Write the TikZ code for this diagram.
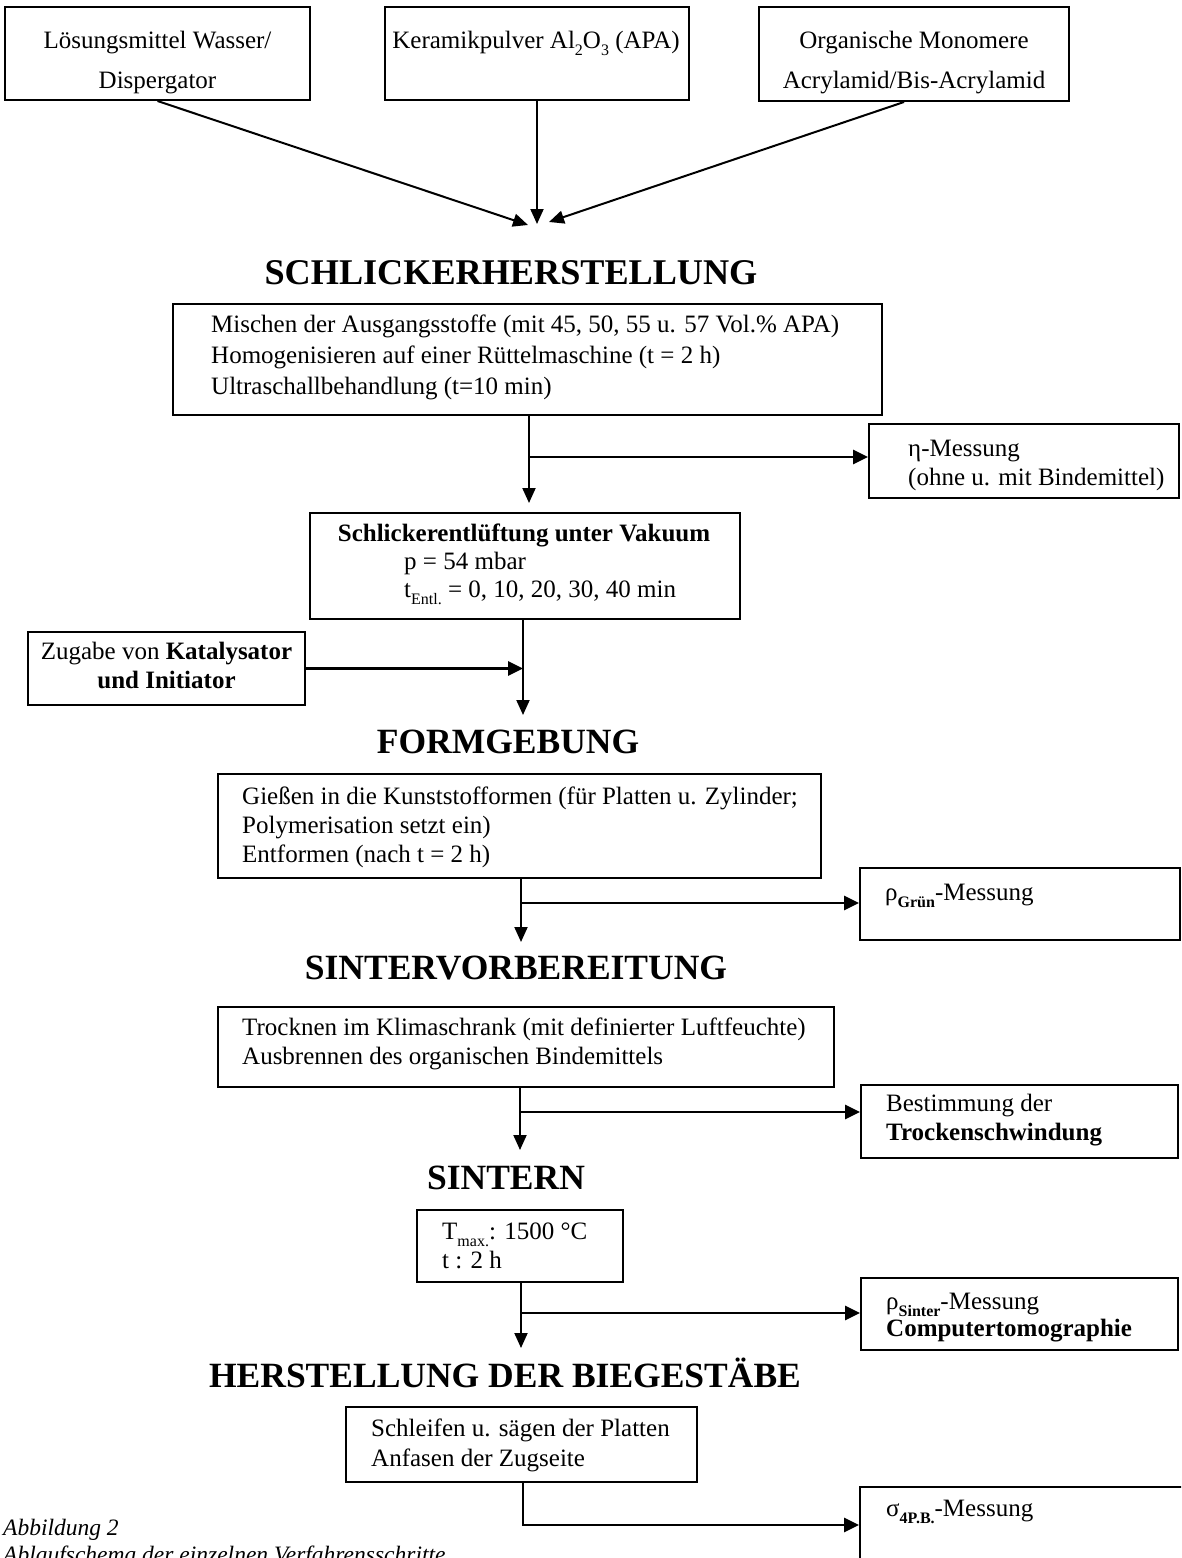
\documentclass[tikz,border=0pt]{standalone}
\usepackage{fontspec}
\setmainfont{Liberation Serif}
\usetikzlibrary{arrows.meta}
\newcommand{\lowsub}[1]{\raisebox{-0.28em}{\fontsize{16}{16}\selectfont #1}}
\newcommand{\lowsubb}[1]{\raisebox{-0.28em}{\fontsize{16}{16}\selectfont\bfseries #1}}
\begin{document}
\begin{tikzpicture}[x=1pt,y=-1pt,
  box/.style={draw, line width=2pt, inner sep=0pt},
  body/.style={font=\fontsize{25}{30}\selectfont, inner sep=0pt},
  bodyb/.style={font=\fontsize{25}{30}\selectfont\bfseries, inner sep=0pt},
  head/.style={font=\fontsize{35.5}{40}\selectfont\bfseries, inner sep=0pt, anchor=base},
  capt/.style={font=\fontsize{23.5}{28}\selectfont\itshape, inner sep=0pt, anchor=base west},
  conn/.style={line width=2pt, -{Triangle[length=15pt,width=13pt]}},
  branch/.style={line width=2.8pt, -{Triangle[length=15pt,width=14pt]}},
]
\useasboundingbox (0,0) rectangle (1181,1558);
\fill[white] (0,0) rectangle (1181,1558);
\clip (0,0) rectangle (1181,1558);

% ---------- top boxes ----------
\node[box, minimum width=305pt, minimum height=93pt] (b1) at (157.5,53.5) {};
\node[body, anchor=base] (b1a) at (157.5,48) {Lösungsmittel Wasser/};
\node[body, anchor=base] (b1b) at (157.5,88) {Dispergator};
\node[box, minimum width=304pt, minimum height=93pt] (b2) at (537,53.5) {};
\node[body, anchor=base] (b2a) at (536,48) {Keramikpulver Al\lowsub{2}O\lowsub{3} (APA)};
\node[box, minimum width=310pt, minimum height=94pt] (b3) at (914,54) {};
\node[body, anchor=base] (b3a) at (914,48) {Organische Monomere};
\node[body, anchor=base] (b3b) at (914,88) {Acrylamid/Bis-Acrylamid};

\coordinate (j1) at (528,225);
\coordinate (j2) at (537,224);
\coordinate (j3) at (549,222);
\draw[conn] (b1.south) -- (j1);
\draw[conn] (b2.south) -- (j2);
\draw[conn] ([xshift=-10pt]b3.south) -- (j3);

% ---------- SCHLICKERHERSTELLUNG ----------
\node[head, font=\fontsize{36.2}{40}\selectfont\bfseries] (h1) at (511,284) {SCHLICKERHERSTELLUNG};

\node[box, minimum width=709pt, minimum height=111pt] (m) at (527.5,359.5) {};
\node[body, anchor=base west] (m1) at (211,332) {Mischen der Ausgangsstoffe (mit 45, 50, 55 u. 57 Vol.\% APA)};
\node[body, anchor=base west] (m2) at (211,363) {Homogenisieren auf einer Rüttelmaschine (t = 2 h)};
\node[body, anchor=base west] (m3) at (211,394) {Ultraschallbehandlung (t=10 min)};

\node[box, minimum width=310pt, minimum height=74pt] (e) at (1024,461) {};
\node[body, anchor=base west] (e1) at (908,456) {η-Messung};
\node[body, anchor=base west] (e2) at (908,485) {(ohne u. mit Bindemittel)};

\coordinate (k1) at (529,503);
\coordinate (k2) at (529,457);
\draw[conn] (m.south -| k1) -- (k1);
\draw[branch] (k2) -- (k2 -| e.west);

\node[box, minimum width=430pt, minimum height=106pt] (v) at (525,566) {};
\node[bodyb, anchor=base] (v1) at (524,541) {Schlickerentlüftung unter Vakuum};
\node[body, anchor=base west] (v2) at (404,569) {p = 54 mbar};
\node[body, anchor=base west] (v3) at (404,597) {t\lowsub{Entl.} = 0, 10, 20, 30, 40 min};

\node[box, minimum width=277pt, minimum height=73pt] (z) at (166.5,668.5) {};
\node[body, anchor=base] (z1) at (166.5,659) {Zugabe von \textbf{Katalysator}};
\node[bodyb, anchor=base] (z2) at (166.5,688) {und Initiator};

\coordinate (k3) at (523,715);
\draw[conn] (v.south -| k3) -- (k3);
\draw[branch] (z.east) -- (z.east -| k3);

% ---------- FORMGEBUNG ----------
\node[head] (h2) at (508,753) {FORMGEBUNG};

\node[box, minimum width=603pt, minimum height=104pt] (g) at (519.5,826) {};
\node[body, anchor=base west] (g1) at (242,804) {Gießen in die Kunststofformen (für Platten u. Zylinder;};
\node[body, anchor=base west] (g2) at (242,833) {Polymerisation setzt ein)};
\node[body, anchor=base west] (g3) at (242,862) {Entformen (nach t = 2 h)};

\node[box, minimum width=320pt, minimum height=72pt] (r1) at (1020,904) {};
\node[body, anchor=base west] (r1a) at (885,900) {ρ\lowsubb{Grün}-Messung};

\coordinate (k4) at (521,942);
\coordinate (k5) at (521,903);
\draw[conn] (g.south -| k4) -- (k4);
\draw[branch] (k5) -- (k5 -| r1.west);

% ---------- SINTERVORBEREITUNG ----------
\node[head] (h3) at (516,979) {SINTERVORBEREITUNG};

\node[box, minimum width=616pt, minimum height=80pt] (tr) at (526,1047) {};
\node[body, anchor=base west] (tr1) at (242,1035) {Trocknen im Klimaschrank (mit definierter Luftfeuchte)};
\node[body, anchor=base west] (tr2) at (242,1064) {Ausbrennen des organischen Bindemittels};

\node[box, minimum width=317pt, minimum height=73pt] (bs) at (1019.5,1121.5) {};
\node[body, anchor=base west] (bs1) at (886,1111) {Bestimmung der};
\node[bodyb, anchor=base west] (bs2) at (886,1140) {Trockenschwindung};

\coordinate (k6) at (520,1150);
\coordinate (k7) at (520,1112);
\draw[conn] (tr.south -| k6) -- (k6);
\draw[branch] (k7) -- (k7 -| bs.west);

% ---------- SINTERN ----------
\node[head] (h4) at (506,1189) {SINTERN};

\node[box, minimum width=206pt, minimum height=72pt] (tm) at (520,1246) {};
\node[body, anchor=base west] (tm1) at (442,1239) {T\lowsub{max.}: 1500 °C};
\node[body, anchor=base west] (tm2) at (442,1268) {t : 2 h};

\node[box, minimum width=317pt, minimum height=72pt] (r2) at (1019.5,1314) {};
\node[body, anchor=base west] (r2a) at (886,1309) {ρ\lowsubb{Sinter}-Messung};
\node[bodyb, anchor=base west] (r2b) at (886,1336) {Computertomographie};

\coordinate (k8) at (521,1348);
\coordinate (k9) at (521,1313);
\draw[conn] (tm.south -| k8) -- (k8);
\draw[branch] (k9) -- (k9 -| r2.west);

% ---------- HERSTELLUNG DER BIEGESTÄBE ----------
\node[head] (h5) at (505,1387) {HERSTELLUNG DER BIEGESTÄBE};

\node[box, minimum width=351pt, minimum height=75pt] (s) at (521.5,1444.5) {};
\node[body, anchor=base west] (s1) at (371,1436) {Schleifen u. sägen der Platten};
\node[body, anchor=base west] (s2) at (371,1466) {Anfasen der Zugseite};

\node[box, minimum width=330pt, minimum height=76pt] (sg) at (1025,1525) {};
\node[body, anchor=base west] (sg1) at (886,1516) {σ\lowsubb{4P.B.}-Messung};

\coordinate (k10) at (523,1525);
\draw[branch] (s.south -| k10) -- (k10) -- (sg.west);

% ---------- caption ----------
\node[capt] (c1) at (3,1535) {Abbildung 2};
\node[capt] (c2) at (3,1562) {Ablaufschema der einzelnen Verfahrensschritte};
\end{tikzpicture}
\end{document}
